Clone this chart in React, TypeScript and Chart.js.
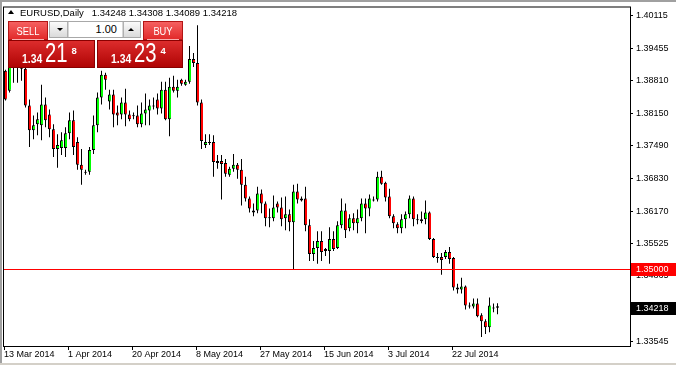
import React, { useEffect, useRef } from 'react';
import { Chart, registerables } from 'chart.js';

Chart.register(...registerables);

// EURUSD Daily, one bar per trading day (broker with Sunday bars), first bar = 13 Mar 2014
const opens = [
  1.39005, 1.38605, 1.39125, 1.39325, 1.39165, 1.39045, 1.38305, 1.37805, 1.37925, 1.37905,
  1.38325, 1.38125, 1.37825, 1.37425, 1.37445, 1.37445, 1.37745, 1.38005, 1.37565, 1.37105,
  1.36945, 1.36965, 1.37405, 1.37905, 1.38465, 1.38925, 1.38385, 1.38525, 1.38165, 1.38125,
  1.38365, 1.38125, 1.38105, 1.38105, 1.37925, 1.38145, 1.38205, 1.38285, 1.38425, 1.38245,
  1.38625, 1.38025, 1.38685, 1.38605, 1.38825, 1.38725, 1.38785, 1.39245, 1.39165, 1.38365,
  1.37505, 1.37565, 1.37565, 1.37185, 1.37185, 1.37145, 1.36905, 1.37025, 1.37105, 1.37005,
  1.36705, 1.36425, 1.36185, 1.36185, 1.36525, 1.36325, 1.36045, 1.36025, 1.36325, 1.36245,
  1.36025, 1.36105, 1.35945, 1.36565, 1.36425, 1.36425, 1.35885, 1.35305, 1.35425, 1.35565,
  1.35405, 1.35365, 1.35605, 1.35425, 1.35885, 1.36185, 1.35825, 1.36025, 1.35925, 1.36025,
  1.36325, 1.36225, 1.36405, 1.36405, 1.36865, 1.36745, 1.36465, 1.36065, 1.35905, 1.35825,
  1.36005, 1.36105, 1.36425, 1.36005, 1.35965, 1.36005, 1.36145, 1.35605, 1.35245, 1.35245,
  1.35245, 1.35345, 1.35225, 1.34625, 1.34585, 1.34645, 1.34265, 1.34245, 1.34305, 1.34065,
  1.33945, 1.33825, 1.34225, 1.34248,
];
const highs = [
  1.39025, 1.39265, 1.39405, 1.39465, 1.39365, 1.39165, 1.38425, 1.38105, 1.38165, 1.38725,
  1.38465, 1.38225, 1.37925, 1.37725, 1.37765, 1.37865, 1.38165, 1.38205, 1.37665, 1.37425,
  1.37005, 1.37465, 1.38105, 1.38565, 1.39005, 1.38965, 1.38625, 1.38625, 1.38305, 1.38465,
  1.38645, 1.38205, 1.38165, 1.38305, 1.38365, 1.38545, 1.38425, 1.38465, 1.38545, 1.38785,
  1.38785, 1.38865, 1.38905, 1.38825, 1.38845, 1.38825, 1.39505, 1.39365, 1.39925, 1.38425,
  1.37725, 1.37725, 1.37705, 1.37305, 1.37305, 1.37225, 1.37065, 1.37325, 1.37145, 1.37225,
  1.36865, 1.36465, 1.36325, 1.36665, 1.36605, 1.36365, 1.36225, 1.36485, 1.36365, 1.36445,
  1.36465, 1.36205, 1.36705, 1.36725, 1.36465, 1.36665, 1.36005, 1.35565, 1.35765, 1.35765,
  1.35425, 1.35845, 1.35765, 1.35965, 1.36425, 1.36325, 1.36105, 1.36125, 1.36205, 1.36425,
  1.36425, 1.36505, 1.36465, 1.36965, 1.36985, 1.36765, 1.36625, 1.36105, 1.35945, 1.36105,
  1.36165, 1.36485, 1.36465, 1.36105, 1.36165, 1.36385, 1.36165, 1.35625, 1.35325, 1.35325,
  1.35385, 1.35445, 1.35245, 1.34705, 1.34825, 1.34665, 1.34325, 1.34405, 1.34405, 1.34105,
  1.33985, 1.34425, 1.34305, 1.34308,
];
const lows = [
  1.38405, 1.38565, 1.38765, 1.38765, 1.38805, 1.38265, 1.37465, 1.37625, 1.37705, 1.37605,
  1.37865, 1.37665, 1.37265, 1.37045, 1.37305, 1.37265, 1.37625, 1.37305, 1.37005, 1.36705,
  1.36905, 1.36905, 1.37325, 1.37765, 1.38325, 1.38625, 1.38225, 1.37865, 1.37905, 1.38025,
  1.37885, 1.37985, 1.38025, 1.37865, 1.37865, 1.37905, 1.37905, 1.38225, 1.38125, 1.38145,
  1.38005, 1.37685, 1.38565, 1.38465, 1.38705, 1.38705, 1.38745, 1.39085, 1.38305, 1.37425,
  1.37445, 1.37505, 1.36865, 1.37025, 1.36405, 1.36865, 1.36865, 1.36965, 1.36825, 1.36285,
  1.36365, 1.36145, 1.36065, 1.36125, 1.36125, 1.35865, 1.35845, 1.35965, 1.36145, 1.35865,
  1.35785, 1.35765, 1.34985, 1.36325, 1.36365, 1.35765, 1.35165, 1.35165, 1.35105, 1.35165,
  1.35265, 1.35105, 1.35365, 1.35405, 1.35825, 1.35625, 1.35765, 1.35785, 1.35725, 1.35965,
  1.35725, 1.36065, 1.36365, 1.36365, 1.36705, 1.36365, 1.36025, 1.35825, 1.35725, 1.35725,
  1.35825, 1.36025, 1.35865, 1.35905, 1.35925, 1.35905, 1.35585, 1.35225, 1.35125, 1.34885,
  1.35205, 1.35105, 1.34565, 1.34505, 1.34505, 1.34185, 1.34205, 1.34205, 1.34025, 1.33625,
  1.33685, 1.33725, 1.34125, 1.34089,
];
const closes = [
  1.38425, 1.39165, 1.39325, 1.39165, 1.39045, 1.38305, 1.37805, 1.37905, 1.38025, 1.38325,
  1.38005, 1.37825, 1.37425, 1.37505, 1.37605, 1.37745, 1.38005, 1.37465, 1.37105, 1.37005,
  1.36965, 1.37405, 1.37905, 1.38465, 1.38925, 1.38825, 1.38525, 1.38125, 1.38105, 1.38365,
  1.38125, 1.38025, 1.38085, 1.37925, 1.38145, 1.38225, 1.38305, 1.38305, 1.38245, 1.38625,
  1.38025, 1.38685, 1.38605, 1.38685, 1.38745, 1.38785, 1.39245, 1.39165, 1.38365, 1.37585,
  1.37565, 1.37545, 1.37165, 1.37145, 1.37125, 1.36925, 1.37025, 1.37105, 1.37005, 1.36705,
  1.36425, 1.36225, 1.36145, 1.36525, 1.36325, 1.36025, 1.36025, 1.36245, 1.36245, 1.36005,
  1.36105, 1.35945, 1.36565, 1.36405, 1.36385, 1.35885, 1.35305, 1.35425, 1.35565, 1.35345,
  1.35365, 1.35605, 1.35405, 1.35885, 1.36185, 1.35785, 1.36025, 1.35925, 1.36025, 1.36325,
  1.36225, 1.36425, 1.36385, 1.36865, 1.36725, 1.36445, 1.36065, 1.35925, 1.35825, 1.36005,
  1.36105, 1.36425, 1.36005, 1.35985, 1.36005, 1.36145, 1.35605, 1.35245, 1.35225, 1.35185,
  1.35345, 1.35205, 1.34625, 1.34585, 1.34645, 1.34265, 1.34245, 1.34305, 1.34045, 1.33945,
  1.33825, 1.34265, 1.34205, 1.34218,
];

const dateLabels = ['13 Mar 2014', '1 Apr 2014', '20 Apr 2014', '8 May 2014', '27 May 2014', '15 Jun 2014', '3 Jul 2014', '22 Jul 2014'];
const dateBars = [0, 16, 32, 48, 64, 80, 96, 112];
const priceTicks = [1.40115, 1.39455, 1.3881, 1.3815, 1.3749, 1.3683, 1.3617, 1.35525, 1.34865, 1.34205, 1.33545];
const alertLevel = 1.35;
const askPrice = 1.34234;
const symbolTitle = 'EURUSD,Daily';
const lotSize = '1.00';

const Y_MIN = 1.33445;
const Y_MAX = 1.40285;
const X_MIN = -0.375;
const X_MAX = 156.125;

const BULL = '#00ff00';
const BEAR = '#ff0000';
const FONT = '"Liberation Sans", Arial, sans-serif';

const mt4Plugin = {
  id: 'mt4',
  beforeDraw(chart: any) {
    const { ctx, width, height } = chart;
    ctx.save();
    ctx.fillStyle = '#ffffff';
    ctx.fillRect(0, 0, width, height);
    ctx.fillStyle = '#a0a0a0';
    ctx.fillRect(0, 0, width, 2);
    ctx.fillRect(0, 0, 2, height);
    ctx.fillStyle = '#d4d0c8';
    ctx.fillRect(0, height - 2, width, 2);
    ctx.restore();
  },
  afterDraw(chart: any) {
    const { ctx, chartArea: ca, scales } = chart;
    const ys = scales.y;
    ctx.save();
    ctx.strokeStyle = '#000';
    ctx.lineWidth = 1;
    ctx.strokeRect(ca.left - 0.5, ca.top - 0.5, ca.right - ca.left + 1, ca.bottom - ca.top + 1);

    // alert level line + label
    const pa = Math.round(ys.getPixelForValue(alertLevel));
    ctx.strokeStyle = '#ff0000';
    ctx.beginPath();
    ctx.moveTo(ca.left, pa + 0.5);
    ctx.lineTo(ca.right, pa + 0.5);
    ctx.stroke();
    ctx.font = '9px ' + FONT;
    ctx.textBaseline = 'middle';
    ctx.textAlign = 'left';
    ctx.fillStyle = '#ff0000';
    ctx.fillRect(ca.right + 1, pa - 6, 45, 13);
    ctx.fillStyle = '#ffffff';
    ctx.fillText(alertLevel.toFixed(5), ca.right + 6, pa + 1);

    // current price label
    const last = closes[closes.length - 1];
    const pc = Math.round(ys.getPixelForValue(last));
    ctx.fillStyle = '#000000';
    ctx.fillRect(ca.right + 1, pc - 6, 45, 13);
    ctx.fillStyle = '#ffffff';
    ctx.fillText(last.toFixed(5), ca.right + 6, pc + 1);
    ctx.restore();
  },
};

function splitPrice(p: number) {
  const s = p.toFixed(5);
  return { big: s.slice(0, 4), mid: s.slice(4, 6), small: s.slice(6) };
}

const abs = (o: any): React.CSSProperties => ({ position: 'absolute', boxSizing: 'border-box', ...o });

function PriceBox({ left, width, price }: { left: number; width: number; price: number }) {
  const p = splitPrice(price);
  return (
    <>
      <div style={abs({ left, top: 40, width, height: 28, background: 'linear-gradient(#dc2c2c, #b00404)', border: '1px solid #8a0000' })} />
      <span style={abs({ left: left + 13.5, top: 51.7, font: 'bold 13px ' + FONT, lineHeight: '13px', color: '#fff', transform: 'scaleX(0.8)', transformOrigin: 'left', whiteSpace: 'pre' })}>{p.big}</span>
      <span style={abs({ left: left + 37, top: 39.8, font: '27px ' + FONT, lineHeight: '27px', color: '#fff', transform: 'scaleX(0.75)', transformOrigin: 'left', whiteSpace: 'pre' })}>{p.mid}</span>
      <span style={abs({ left: left + 63.5, top: 45.5, font: 'bold 9.5px ' + FONT, lineHeight: '9.5px', color: '#fff', whiteSpace: 'pre' })}>{p.small}</span>
    </>
  );
}

function TradeButton({ left, label }: { left: number; label: string }) {
  return (
    <div style={abs({ left, top: 21, width: 40, height: 19, background: 'linear-gradient(#f56060, #e22a2a)', border: '1px solid #b31515' })}>
      <div style={abs({ left: 0, top: 3, width: 38, height: 12, font: '11px ' + FONT, lineHeight: '12px', color: '#fff', textAlign: 'center', transform: 'scaleX(0.85)' })}>{label}</div>
      <div style={abs({ left: 3, top: 17, width: 32, height: 1, background: '#f9b0b0' })} />
    </div>
  );
}

export default function App() {
  const ref = useRef<HTMLCanvasElement | null>(null);

  useEffect(() => {
    if (!ref.current) return;
    const bodies = closes.map((c, i) => ({ x: i, y: [opens[i], c] }));
    const wicks = closes.map((_, i) => ({ x: i, y: [lows[i], highs[i]] }));
    const colors = closes.map((c, i) => (c >= opens[i] ? BULL : BEAR));
    const font = { family: FONT, size: 9, lineHeight: 1 };

    const chart = new Chart(ref.current, {
      type: 'bar',
      data: {
        datasets: [
          {
            label: 'body',
            data: bodies as any,
            backgroundColor: colors,
            borderColor: '#000',
            borderWidth: { left: 1, right: 0, top: 1, bottom: 1 },
            borderSkipped: false,
            barThickness: 3,
            maxBarThickness: 3,
            grouped: false,
            inflateAmount: 0,
            minBarLength: 1,
            order: 0,
          } as any,
          {
            label: 'wick',
            data: wicks as any,
            backgroundColor: '#000',
            borderWidth: 0,
            barThickness: 1,
            maxBarThickness: 1,
            grouped: false,
            inflateAmount: 0,
            order: 1,
          } as any,
        ],
      },
      options: {
        responsive: false,
        animation: false,
        devicePixelRatio: 1,
        events: [],
        layout: { padding: { left: 4, top: 4, right: 0, bottom: 0 } },
        plugins: { legend: { display: false }, tooltip: { enabled: false } },
        scales: {
          x: {
            type: 'linear',
            position: 'bottom',
            min: X_MIN,
            max: X_MAX,
            offset: false,
            afterFit: (s: any) => { s.height = 19; },
            afterBuildTicks: (s: any) => { s.ticks = dateBars.map((b) => ({ value: b - 0.375 })); },
            grid: { display: true, drawOnChartArea: false, drawTicks: true, tickLength: 4, color: '#000', offset: false },
            border: { display: false },
            ticks: {
              autoSkip: false,
              maxRotation: 0,
              minRotation: 0,
              align: 'start',
              padding: 0,
              color: '#000',
              font,
              callback: (_v: any, i: number) => dateLabels[i],
            },
          } as any,
          y: {
            type: 'linear',
            position: 'right',
            min: Y_MIN,
            max: Y_MAX,
            afterFit: (s: any) => { s.width = 46; },
            afterBuildTicks: (s: any) => { s.ticks = priceTicks.map((v) => ({ value: v })); },
            grid: { display: true, drawOnChartArea: false, drawTicks: true, tickLength: 3, color: '#000' },
            border: { display: false },
            ticks: {
              crossAlign: 'near',
              padding: 3,
              color: '#000',
              font,
              callback: (v: any) => Number(v).toFixed(5),
            },
          } as any,
        },
      },
      plugins: [mt4Plugin],
    });
    return () => chart.destroy();
  }, []);

  const n = closes.length - 1;
  const header = `${symbolTitle}   ${opens[n].toFixed(5)} ${highs[n].toFixed(5)} ${lows[n].toFixed(5)} ${closes[n].toFixed(5)}`;

  return (
    <div style={{ position: 'absolute', left: 0, top: 0, width: 676, height: 365, overflow: 'hidden' }}>
      <canvas ref={ref} width={676} height={365} style={{ display: 'block', width: 676, height: 365 }} />
      <div style={abs({ left: 8, top: 10, width: 0, height: 0, borderLeft: '3px solid transparent', borderRight: '3px solid transparent', borderBottom: '4px solid #000' })} />
      <div style={abs({ left: 20, top: 7, font: '9.5px ' + FONT, lineHeight: '12px', color: '#000', whiteSpace: 'pre' })}>{header}</div>

      <TradeButton left={8} label="SELL" />
      <div style={abs({ left: 49, top: 21, width: 92, height: 17, background: '#d6d6d6', border: '1px solid #a8a8a8' })} />
      <div style={abs({ left: 50, top: 22, width: 18, height: 15, background: 'linear-gradient(#fbfbfb, #dadada)', borderRight: '1px solid #b0b0b0' })} />
      <div style={abs({ left: 57, top: 28, width: 0, height: 0, borderLeft: '3px solid transparent', borderRight: '3px solid transparent', borderTop: '3px solid #000' })} />
      <div style={abs({ left: 69, top: 22, width: 53, height: 15, background: '#fff', font: '11px ' + FONT, lineHeight: '15px', color: '#000', textAlign: 'right', paddingRight: 5 })}>{lotSize}</div>
      <div style={abs({ left: 123, top: 22, width: 17, height: 15, background: 'linear-gradient(#fbfbfb, #dadada)', borderLeft: '1px solid #b0b0b0' })} />
      <div style={abs({ left: 128, top: 28, width: 0, height: 0, borderLeft: '3px solid transparent', borderRight: '3px solid transparent', borderBottom: '3px solid #000' })} />
      <TradeButton left={143} label="BUY" />

      <PriceBox left={8} width={87} price={closes[n]} />
      <PriceBox left={97} width={86} price={askPrice} />
    </div>
  );
}
